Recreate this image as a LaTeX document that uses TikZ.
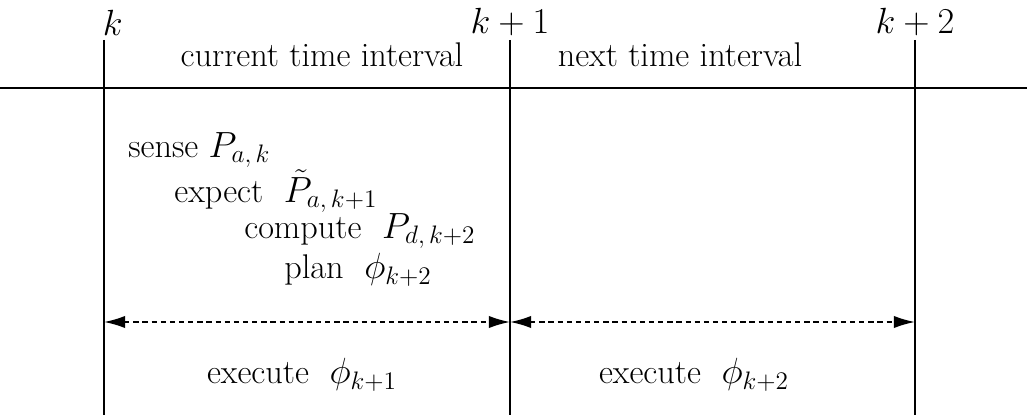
\documentclass[tikz,border=0pt]{standalone}
\usetikzlibrary{arrows.meta}
\begin{document}
\begin{tikzpicture}[x=0.02cm,y=-0.02cm,
    lbl/.style={font=\fontsize{19.5}{22}\selectfont},
    stepnode/.style={lbl,anchor=west,inner sep=0pt},
    span/.style={{Latex[length=12pt,width=7pt]}-{Latex[length=12pt,width=7pt]}, dash pattern=on 3pt off 2.2pt, line width=1pt}]
    \useasboundingbox (0,0) rectangle (1027,415);
    % time axis and ticks
    \draw[line width=1.4pt] (0,88) -- (1027,88);
    \foreach \x/\n in {104/0,510/1,915/2} {
        \coordinate (t\n) at (\x,40);
        \coordinate (b\n) at (\x,415);
        \coordinate (a\n) at (\x,322);
        \draw[line width=1.4pt] (t\n) -- (b\n);
    }
    \node[lbl,anchor=south] (k0) at ([xshift=5pt,yshift=-1pt]t0) {$k$};
    \node[lbl,anchor=south] (k1) at ([yshift=-1pt]t1) {$k+1$};
    \node[lbl,anchor=south] (k2) at ([yshift=-1pt]t2) {$k+2$};
    \node[lbl] (cur) at (322,55) {current time interval};
    \node[lbl] (nxt) at (680,55) {next time interval};
    % steps within the current interval
    \node[stepnode] (sense) at (128,150) {sense $P_{a,\,k}$};
    \node[stepnode] (expect) at (174,191) {expect \ $\tilde{P}_{a,\,k+1}$};
    \node[stepnode] (compute) at (244,231) {compute \ $P_{d,\,k+2}$};
    \node[stepnode] (plan) at (284,270) {plan \ $\phi_{k+2}$};
    % execution spans
    \draw[span] (a0) -- (a1);
    \draw[span] (a1) -- (a2);
    \node[lbl] (ex1) at (302,375) {execute \ $\phi_{k+1}$};
    \node[lbl] (ex2) at (694,375) {execute \ $\phi_{k+2}$};
\end{tikzpicture}
\end{document}
